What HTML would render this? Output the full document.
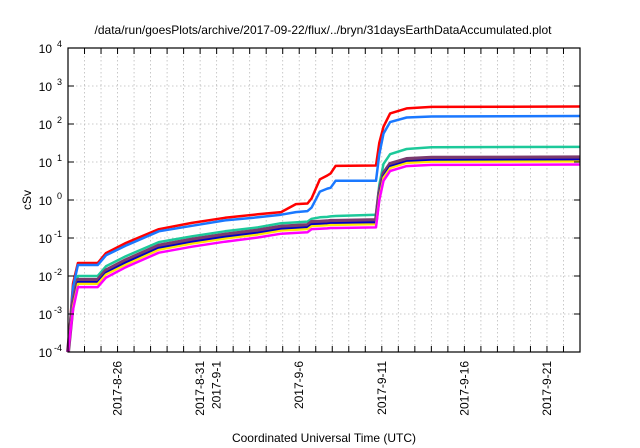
<!DOCTYPE html>
<html><head><meta charset="utf-8"><style>
body{margin:0;background:#fff;}
svg{display:block;font-family:"Liberation Sans",sans-serif;}
</style></head><body>
<svg id="c" width="640" height="448" viewBox="0 0 640 448">
<text x="323" y="34" font-size="12" text-anchor="middle">/data/run/goesPlots/archive/2017-09-22/flux/../bryn/31daysEarthDataAccumulated.plot</text>
<text transform="translate(31,200) rotate(-90)" font-size="12" text-anchor="middle">cSv</text>
<text x="324" y="442" font-size="12" text-anchor="middle">Coordinated Universal Time (UTC)</text>
<g id="grid"></g><g id="series"></g><g id="axes"></g>
</svg>
<script>
const times=[0,0.3,0.6,1.8,2.3,3.5,5.5,7.5,9.5,11.5,12.9,13.8,14.5,14.75,15.25,15.7,15.9,16.2,18.65,18.85,19.1,19.5,20.5,22,31];
const red=[1e-4,0.0063,0.022,0.022,0.04,0.074,0.17,0.25,0.34,0.42,0.48,0.78,0.81,1.1,3.5,4.4,5,7.9,8.1,32,85,190,257,282,288];
const blue=[1e-4,0.005,0.0195,0.0195,0.035,0.063,0.15,0.21,0.29,0.35,0.41,0.48,0.51,0.63,1.66,2.0,2.1,3.2,3.2,16,56,112,148,158,162];
const green=[1e-4,0.0025,0.01,0.01,0.018,0.033,0.078,0.11,0.15,0.19,0.245,0.257,0.27,0.32,0.35,0.36,0.37,0.38,0.41,2.5,8.9,16,22,24.5,25];
const purple=[1e-4,0.002,0.0079,0.0079,0.014,0.026,0.063,0.091,0.123,0.158,0.2,0.209,0.219,0.263,0.269,0.275,0.282,0.282,0.295,1.58,5.0,8.9,12,12.9,13.2];
const darkblue=[1e-4,0.0017,0.0069,0.0069,0.0122,0.0226,0.055,0.079,0.107,0.137,0.174,0.182,0.19,0.229,0.234,0.239,0.245,0.245,0.257,1.37,4.35,7.7,10.4,11.2,11.5];
const yellow=[1e-4,0.0016,0.0062,0.0062,0.011,0.02,0.049,0.071,0.096,0.123,0.156,0.163,0.171,0.205,0.21,0.215,0.22,0.22,0.23,1.23,3.9,6.9,9.4,10.1,10.3];
const magenta=[1e-4,0.0013,0.0051,0.0051,0.0091,0.017,0.041,0.059,0.08,0.103,0.13,0.136,0.142,0.171,0.175,0.179,0.183,0.183,0.19,1.0,3.2,5.8,7.8,8.4,8.6];
const yTickExps=[-4,-3,-2,-1,0,1,2,3,4];
const xTickDays=[3,8,9,14,19,24,29];
const xTickLabels=["2017-8-26","2017-8-31","2017-9-1","2017-9-6","2017-9-11","2017-9-16","2017-9-21"];
const L=68,R=580,T=48,B=352,NS="http://www.w3.org/2000/svg";
function xs(d){return L+(d/31)*(R-L);}
function ys(v){return B-(Math.log10(v)+4)/8*(B-T);}
function mk(tag,attrs,parent){const e=document.createElementNS(NS,tag);for(const k in attrs)e.setAttribute(k,attrs[k]);parent.appendChild(e);return e;}
const grid=document.getElementById('grid'),ser=document.getElementById('series'),ax=document.getElementById('axes');
for(let d=1;d<31;d++){const g=mk('line',{x1:xs(d),x2:xs(d),y1:T,y2:B,stroke:'#bbb','stroke-width':0.8,'stroke-dasharray':'1.5,2.5'},grid);


const t1=mk('line',{x1:xs(d),x2:xs(d),y1:B,y2:B-6,stroke:'#000','stroke-width':1},ax);


const t2=mk('line',{x1:xs(d),x2:xs(d),y1:T,y2:T+6,stroke:'#000','stroke-width':1},ax);

}
yTickExps.forEach(e=>{const y=ys(Math.pow(10,e));
if(e>-4&&e<4){const g=mk('line',{x1:L,x2:R,y1:y,y2:y,stroke:'#bbb','stroke-width':0.8,'stroke-dasharray':'1.5,2.5'},grid);

}
const t=mk('line',{x1:L,x2:L+6,y1:y,y2:y,stroke:'#000'},ax);


const t2=mk('line',{x1:R,x2:R-6,y1:y,y2:y,stroke:'#000'},ax);


const tx=mk('text',{x:L-20,y:y+5,'font-size':12,'text-anchor':'end'},ax);


tx.textContent='10';
const sp=mk('tspan',{dy:-6,'font-size':9,x:L-6,'text-anchor':'end'},tx);sp.textContent=String(e);
tx.setAttribute('x',L-16);});
xTickDays.forEach((d,i)=>{const x=xs(d);const t=mk('text',{transform:`translate(${x+4},${B+9}) rotate(-90)`,'font-size':12,'text-anchor':'end'},ax);


t.textContent=xTickLabels[i];});
const fr=mk('rect',{x:L,y:T,width:R-L,height:B-T,fill:'none',stroke:'#000','stroke-width':1.2},ax);


const S=[[red,'#ff0000','series-red',2.5],[blue,'#1a78ff','series-blue',2.5],[green,'#1dc99a','series-green',2.5],[purple,'#7a3a6e','series-purple',4],[darkblue,'#0000c8','series-dark-blue',2.2],[yellow,'#ffe600','series-yellow',2.2],[magenta,'#ff00ff','series-magenta',2.5]];
S.forEach(([vals,col,name,w])=>{const p=mk('polyline',{points:times.map((t,i)=>xs(t).toFixed(1)+','+ys(vals[i]).toFixed(1)).join(' '),fill:'none',stroke:col,'stroke-width':w,'stroke-linejoin':'round'},ser);

});
</script>
</body></html>
